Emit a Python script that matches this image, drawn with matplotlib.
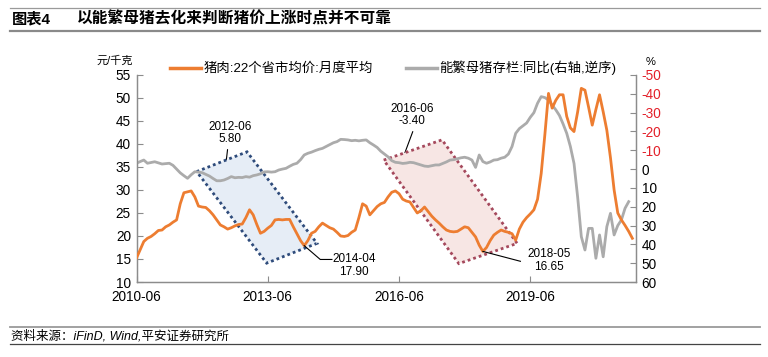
import numpy as np
import matplotlib.pyplot as plt
from matplotlib.patches import Polygon
from matplotlib.lines import Line2D

plt.rcParams['font.family'] = ['Liberation Sans', 'Noto Sans CJK SC', 'DejaVu Sans']
plt.rcParams['axes.unicode_minus'] = False

# monthly data starting 2010-06
pork = [15.2, 17.0, 18.8, 19.5, 19.9, 20.5, 21.2, 21.3, 22.0, 22.4,
        23.0, 23.5, 27.0, 29.4, 29.6, 29.8, 28.5, 26.5, 26.3, 26.2,
        25.5, 24.6, 23.5, 22.4, 22.0, 21.5, 21.8, 22.2, 22.5, 22.6,
        24.0, 25.7, 24.6, 22.5, 20.6, 21.0, 21.7, 22.3, 23.5, 23.6,
        23.5, 23.6, 23.6, 22.0, 20.5, 19.0, 17.9, 19.0, 20.6, 21.0,
        22.0, 22.8, 22.3, 21.8, 21.5, 20.8, 20.0, 19.9, 20.1, 20.8,
        21.3, 24.0, 27.0, 26.5, 24.6, 25.5, 26.4, 27.0, 27.3, 28.5,
        29.5, 29.8, 29.2, 28.0, 27.6, 27.4, 26.2, 25.0, 25.5, 26.3,
        25.3, 24.3, 23.5, 22.8, 22.0, 21.3, 21.0, 20.9, 21.0, 21.5,
        22.0, 21.8, 20.8, 19.8, 18.0, 16.65, 17.5, 19.0, 20.2, 20.8,
        21.3, 21.0, 20.8, 20.5, 19.1, 21.5, 23.0, 24.0, 24.8, 25.7,
        28.0, 33.6, 42.0, 51.0, 47.8, 49.5, 50.7, 50.7, 46.0, 43.5,
        42.7, 47.0, 52.1, 51.7, 48.0, 44.1, 47.5, 50.7, 47.0, 43.0,
        37.0, 30.0, 25.0, 23.5, 22.3, 21.0, 19.5]

sow_yoy = [-3.1, -4.0, -4.8, -3.1, -3.5, -3.9, -3.3, -2.7, -2.9, -3.1,
           -2.0, 0.0, 2.0, 3.5, 4.9, 3.0, 1.4, 1.6, 1.9, 2.8,
           3.7, 5.0, 6.2, 6.2, 5.8, 5.0, 4.0, 4.6, 4.4, 4.5,
           4.0, 4.3, 3.5, 3.1, 2.5, 1.5, 1.4, 1.6, 1.4, 0.5,
           0.0, -0.4, -1.5, -2.5, -3.1, -5.0, -7.5, -8.4, -9.0, -9.8,
           -10.5, -11.0, -12.0, -13.0, -14.0, -14.6, -15.8, -15.7, -15.5, -15.1,
           -15.3, -15.0, -15.3, -15.5, -14.0, -12.8, -11.5, -9.5, -8.0, -6.5,
           -4.5, -3.6, -3.4, -3.0, -3.2, -3.6, -3.4, -2.8, -2.2, -1.6,
           -1.4, -1.8, -2.2, -2.2, -3.0, -3.8, -4.8, -5.0, -5.5, -6.0,
           -6.3, -5.8, -4.8, -0.9, -7.5, -4.0, -3.1, -3.8, -4.8, -5.0,
           -5.8, -6.3, -8.0, -12.0, -19.0, -21.5, -23.0, -24.5, -27.5, -30.0,
           -35.0, -38.5, -38.0, -36.7, -34.0, -31.5, -28.5, -24.0, -19.0, -12.0,
           -3.0, 15.0, 35.9, 43.0, 31.5, 31.5, 47.4, 35.0, 46.6, 30.6,
           23.5, 35.0, 30.0, 27.0, 20.8, 17.3]

tick_labels = ['2010-06', '2013-06', '2016-06', '2019-06']
left_ticks = [10, 15, 20, 25, 30, 35, 40, 45, 50, 55]
right_ticks = [-50, -40, -30, -20, -10, 0, 10, 20, 30, 40, 50, 60]

orange = '#ED7D31'
grey = '#ABABAB'
spine_c = '#8C8C8C'

fig = plt.figure(figsize=(7.68, 3.57), dpi=100)
ax = fig.add_axes([136.5/768, 1-282/357, (636-136.5)/768, 207/357])
ax2 = ax.twinx()
ax.set_zorder(ax2.get_zorder() + 1)
ax.patch.set_visible(False)

ax.set_xlim(0, 137)
ax.set_ylim(10, 55)
ax2.set_ylim(60, -50)

x1 = np.arange(len(pork))
x2 = np.arange(len(sow_yoy))

# shaded dotted boxes
blue_box = Polygon([(16.5, 34.0), (30.3, 38.3), (49.5, 18.4), (35.7, 14.1)], closed=True,
                   facecolor='#E6EDF6', edgecolor='#2E4B7B', lw=2.0, ls=(0, (1, 1.1)), zorder=1)
red_box = Polygon([(67.8, 36.5), (83.8, 40.9), (104.4, 18.4), (88.4, 14.0)], closed=True,
                  facecolor='#F7E6E4', edgecolor='#A5485C', lw=2.0, ls=(0, (1, 1.1)), zorder=1)
ax.add_patch(blue_box)
ax.add_patch(red_box)

# grey series belongs to the right axis but is drawn above the boxes
ax.plot(x2, sow_yoy, color=grey, lw=2.0, zorder=2, transform=ax2.transData)
ax.plot(x1, pork, color=orange, lw=2.0, zorder=3)
ax.set_xlim(0, 137)
ax.set_ylim(10, 55)

tick_pos = [(int(t[:4]) - 2010) * 12 + int(t[5:]) - 6 for t in tick_labels]
ax.set_xticks(tick_pos)
ax.set_xticklabels(tick_labels, fontsize=9.8)
ax.set_yticks(left_ticks)
ax.set_yticklabels([str(v) for v in left_ticks], fontsize=9.8)
ax2.set_yticks(right_ticks)
ax2.set_yticklabels([str(v) for v in right_ticks], fontsize=9.8)
for lab, v in zip(ax2.get_yticklabels(), right_ticks):
    lab.set_color('#E3202A' if v < 0 else 'black')

for a in (ax, ax2):
    a.tick_params(direction='in', length=4, color=spine_c, width=0.8)
    for s in a.spines.values():
        s.set_color(spine_c)
        s.set_linewidth(0.9)
    a.spines['top'].set_visible(False)
ax.tick_params(axis='x', pad=6)
ax.tick_params(axis='y', pad=4)
ax2.tick_params(axis='y', pad=4)

# annotations
af = 8.5
ax2.annotate('2012-06\n5.80', xy=(24, sow_yoy[24]), xytext=(25.7, 42.4),
             textcoords=ax.transData, ha='center', va='center', fontsize=af,
             linespacing=1.1,
             arrowprops=dict(arrowstyle='-', color='black', lw=0.8, relpos=(0.45, 0),
                             shrinkA=1, shrinkB=0))
ax2.annotate('2016-06\n-3.40', xy=(72.6, sow_yoy[72]), xytext=(75.6, 46.3),
             textcoords=ax.transData, ha='center', va='center', fontsize=af,
             linespacing=1.1,
             arrowprops=dict(arrowstyle='-', color='black', lw=0.8, relpos=(0.55, 0),
                             shrinkA=1, shrinkB=0))
ax.plot([46, 50.4, 53.6], [pork[46], 14.9, 14.9], color='black', lw=0.8, zorder=4)
ax.text(59.6, 13.6, '2014-04\n17.90', ha='center', va='center', fontsize=af, linespacing=1.1)
ax.plot([95, 105.3], [pork[95], 14.5], color='black', lw=0.8, zorder=4)
ax.text(113.1, 14.6, '2018-05\n16.65', ha='center', va='center', fontsize=af, linespacing=1.1)

fig.text(115/768, 1-61/357, '元/千克', ha='center', va='center', fontsize=8)
fig.text(651/768, 1-62/357, '%', ha='center', va='center', fontsize=8)

handles = [Line2D([], [], color=orange, lw=2.5), Line2D([], [], color=grey, lw=2.5)]
fig.legend(handles, ['猪肉:22个省市均价:月度平均', '能繁母猪存栏:同比(右轴,逆序)'],
           loc='center left', bbox_to_anchor=(170/768, 1-68/357), ncol=2, frameon=False,
           borderpad=0, borderaxespad=0, handlelength=2.3, handletextpad=0.2,
           columnspacing=2.5, fontsize=9.6)

# header and footer
fig.add_artist(Line2D([10/768, 760/768], [1-8/357, 1-8/357], color='#9A9A9A', lw=0.9))
fig.add_artist(Line2D([10/768, 760/768], [1-31/357, 1-31/357], color='#8A8A8A', lw=1.6))
fig.text(12/768, 1-19.5/357, '图表4', fontsize=11, fontweight='bold', va='center')
fig.text(77/768, 1-19.5/357, '以能繁母猪去化来判断猪价上涨时点并不可靠', fontsize=11.3,
         fontweight='bold', va='center')
fig.add_artist(Line2D([10/768, 760/768], [1-326.5/357, 1-326.5/357], color='#9A9A9A', lw=1.3))
fig.add_artist(Line2D([10/768, 760/768], [1-344/357, 1-344/357], color='#444444', lw=0.9))
fig.text(11/768, 1-336/357, '资料来源：iFinD, Wind,平安证券研究所', fontsize=9,
         style='italic', va='center')

fig.savefig('out.png', dpi=100)
